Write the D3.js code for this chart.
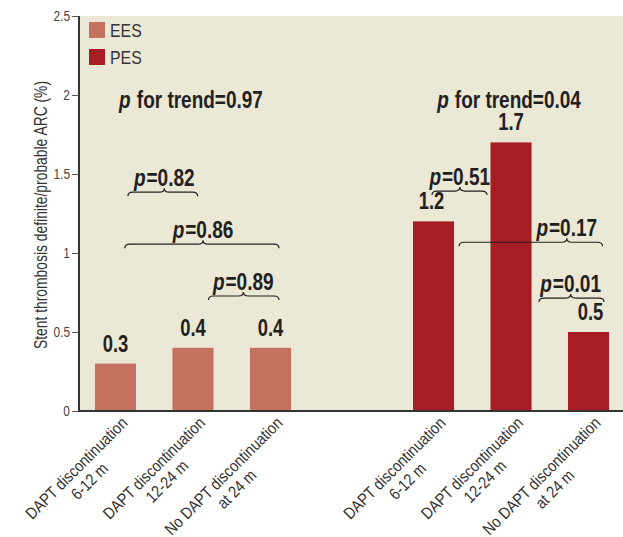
<!DOCTYPE html>
<html><head><meta charset="utf-8">
<script src="https://cdn.jsdelivr.net/npm/d3@7"></script>
<style>
body{margin:0;background:#fff;}
text{font-family:"Liberation Sans",Arial,sans-serif;}
</style></head>
<body><svg id="c" width="623" height="537"></svg>
<script>
// ---- data ----
const groups = ["EES", "PES"];
const categories = [
  ["DAPT discontinuation", "6-12 m"],
  ["DAPT discontinuation", "12-24 m"],
  ["No DAPT discontinuation", "at 24 m"]
];
const eesValues = [0.3, 0.4, 0.4];
const pesValues = [1.2, 1.7, 0.5];
const yTicks = [0, 0.5, 1, 1.5, 2, 2.5];
const yTickLabels = ["0", "0.5", "1", "1.5", "2", "2.5"];
const trendLabels = ["0.97", "0.04"];
// pairwise comparisons: group, bracket start/end & tip (category index units), level (%), p value
const comparisons = [
  {g: 0, x1: 0.16, x2: 1.06, tip: 0.63, level: 1.385, p: "0.82"},
  {g: 0, x1: 0.12, x2: 2.11, tip: 1.13, level: 1.056, p: "0.86"},
  {g: 0, x1: 1.20, x2: 2.11, tip: 1.65, level: 0.728, p: "0.89"},
  {g: 1, x1: -0.02, x2: 0.69, tip: 0.34, level: 1.392, p: "0.51"},
  {g: 1, x1: 0.33, x2: 2.18, tip: 1.72, level: 1.068, p: "0.17"},
  {g: 1, x1: 1.36, x2: 2.20, tip: 1.77, level: 0.715, p: "0.01"}
];
const series = [eesValues, pesValues];
const colors = ["#c57160", "#a61e24"];

// ---- layout ----
const svg = d3.select("#c");
const L = 79, R = 623, T = 16, B = 411;
function condense(sel, f) {
  sel.each(function () {
    const w = this.getComputedTextLength();
    d3.select(this).attr("textLength", w * f).attr("lengthAdjust", "spacingAndGlyphs");
  });
  return sel;
}
const y = d3.scaleLinear().domain([0, 2.5]).range([B, T]);
const gx = d3.scaleBand().domain(groups).range([76.75, 627.25]).paddingInner(0.269);
const ix = d3.scaleBand().domain(d3.range(categories.length)).range([0, gx.bandwidth()])
  .paddingInner(0.47).paddingOuter(0.235);
const step = ix.step();
const cx = (g, i) => gx(groups[g]) + ix(0) + ix.bandwidth() / 2 + i * step;

svg.append("rect").attr("x", L).attr("y", T).attr("width", R - L).attr("height", B - T).attr("fill", "#ebe8d6");

// bars
series.forEach((vals, g) => {
  svg.append("g").selectAll("rect").data(vals).join("rect")
    .attr("x", (d, i) => gx(groups[g]) + ix(i))
    .attr("width", ix.bandwidth())
    .attr("y", d => y(d))
    .attr("height", d => B - y(d))
    .attr("fill", colors[g]);
});

// axes
const yAxis = d3.axisLeft(y).tickValues(yTicks).tickFormat((d, i) => yTickLabels[i]).tickSize(7).tickPadding(2);
const ya = svg.append("g").attr("transform", `translate(${L},0)`).call(yAxis);
ya.select(".domain").attr("stroke", "#333").attr("stroke-width", 2).attr("d", `M0,${T}V${B}`);
ya.selectAll(".tick line").attr("stroke", "#555");
ya.selectAll(".tick text").attr("font-size", 14).attr("fill", "#444")
  .style("font-family", '"Liberation Sans",Arial,sans-serif');
condense(ya.selectAll(".tick text"), 0.85);
svg.append("line").attr("x1", L - 1).attr("x2", R).attr("y1", B).attr("y2", B).attr("stroke", "#333").attr("stroke-width", 2);

// y title
condense(svg.append("text").attr("transform", `translate(47,215) rotate(-90)`).attr("text-anchor", "middle")
  .attr("font-size", 18).attr("fill", "#333").text("Stent thrombosis definite/probable ARC (%)"), 0.77);

// legend
groups.forEach((g, i) => {
  svg.append("rect").attr("x", 89).attr("y", 22 + i * 27).attr("width", 16).attr("height", 16).attr("fill", colors[i]);
  condense(svg.append("text").attr("x", 110).attr("y", 37 + i * 27).attr("font-size", 18).attr("fill", "#333").text(g), 0.88);
});

// value labels
series.forEach((vals, g) => {
  condense(svg.append("g").selectAll("text").data(vals).join("text")
    .attr("x", (d, i) => cx(g, i) + (g === 1 && i === 0 ? -2 : 0) + (g === 1 && i === 2 ? 2 : 0))
    .attr("y", d => y(d) - 12)
    .attr("text-anchor", "middle").attr("font-size", 23).attr("font-weight", "bold").attr("fill", "#231f20")
    .text(d => d.toFixed(1)), 0.8);
});

// trend labels
function pText(sel, rest) {
  sel.append("tspan").attr("font-style", "italic").text("p");
  sel.append("tspan").attr("dx", 1).text(rest);
}
trendLabels.forEach((t, g) => {
  const t0 = svg.append("text").attr("x", cx(g, 1) - 2).attr("y", 108).attr("text-anchor", "middle")
    .attr("font-size", 23).attr("font-weight", "bold").attr("fill", "#231f20");
  pText(t0, " for trend=" + t);
  condense(t0, 0.83);
});

// comparison braces
comparisons.forEach(c => {
  const x1 = cx(c.g, c.x1), x2 = cx(c.g, c.x2), xt = cx(c.g, c.tip), yy = y(c.level), r = 5, h = 4;
  const p = d3.path();
  p.moveTo(x1, yy + h);
  p.quadraticCurveTo(x1, yy, x1 + r, yy);
  p.lineTo(xt - r, yy);
  p.quadraticCurveTo(xt, yy, xt, yy - h);
  p.quadraticCurveTo(xt, yy, xt + r, yy);
  p.lineTo(x2 - r, yy);
  p.quadraticCurveTo(x2, yy, x2, yy + h);
  svg.append("path").attr("d", p.toString()).attr("fill", "none").attr("stroke", "#231f20").attr("stroke-width", 1.2);
  const t = svg.append("text").attr("x", xt).attr("y", yy - 6).attr("text-anchor", "middle")
    .attr("font-size", 23).attr("font-weight", "bold").attr("fill", "#231f20");
  pText(t, "=" + c.p);
  condense(t, 0.84);
});

// x labels
groups.forEach((g, gi) => {
  categories.forEach((lines, i) => {
    const gg = svg.append("g").attr("transform", `translate(${cx(gi, i) + 13},${B + 13}) rotate(-45)`);
    const t1 = gg.append("text").attr("font-size", 16.5).attr("fill", "#333").attr("text-anchor", "middle").text(lines[0]);
    condense(t1, 0.86);
    const w = +t1.attr("textLength");
    t1.attr("x", -w / 2);
    condense(gg.append("text").attr("font-size", 16.5).attr("fill", "#333").attr("text-anchor", "middle")
      .attr("x", -w / 2).attr("y", 18.5).text(lines[1]), 0.86);
  });
});
</script></body></html>
